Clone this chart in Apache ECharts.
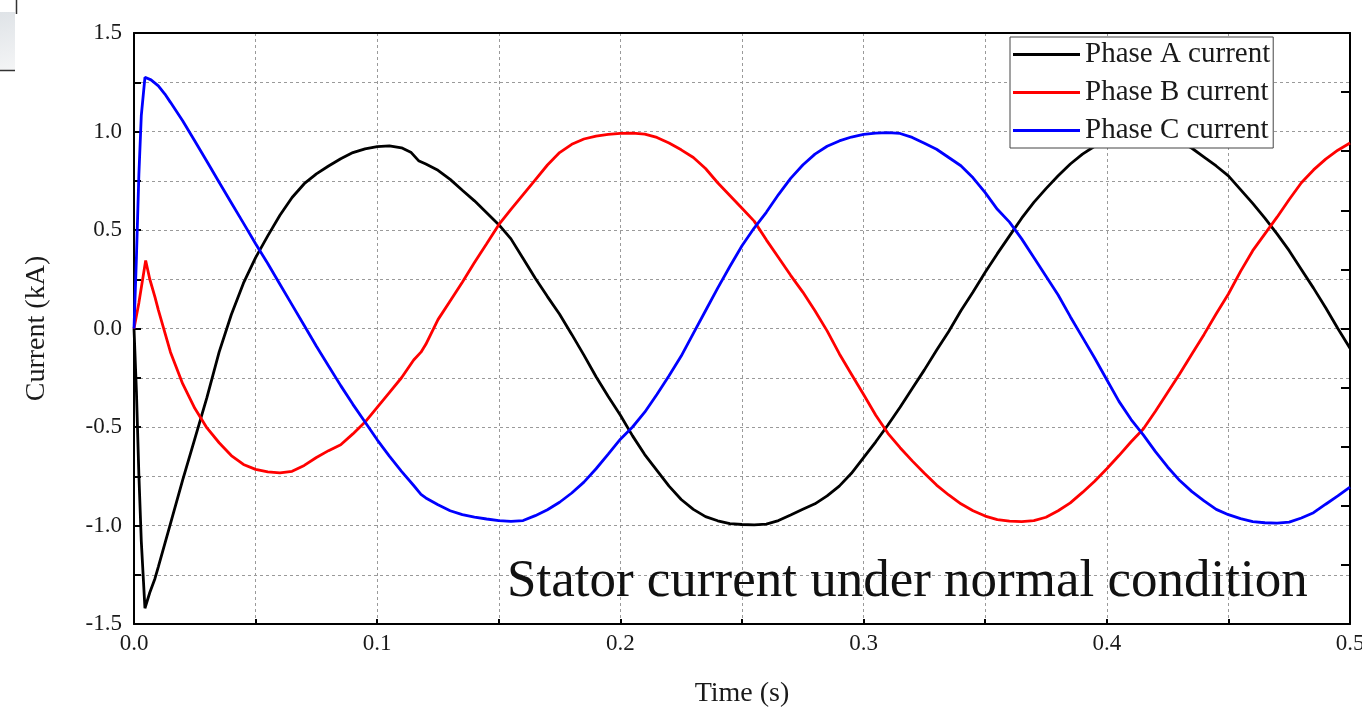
<!DOCTYPE html>
<html>
<head>
<meta charset="utf-8">
<script src="https://cdn.jsdelivr.net/npm/echarts@6/dist/echarts.min.js"></script>
<style>
html,body{margin:0;padding:0;background:#fff;}
#chart{width:1362px;height:708px;}
</style>
</head>
<body>
<div id="chart"></div>
<script>
// ---- data (time in s, current in kA) ----
const seriesNames = ['Phase A current', 'Phase B current', 'Phase C current'];
const xTickLabels = ['0.0', '0.1', '0.2', '0.3', '0.4', '0.5'];
const yTickLabels = ['-1.5', '-1.0', '-0.5', '0.0', '0.5', '1.0', '1.5'];
const annotation = 'Stator current under normal condition';

const tA = [0,0.001,0.002,0.003,0.0045,0.0065,0.0086,0.010,0.015,0.020,0.025,0.030,0.035,0.040,0.045,0.050,0.055,0.060,0.065,0.070,0.075,0.080,0.085,0.090,0.095,0.100,0.105,0.110,0.114,0.117,0.120,0.125,0.130,0.135,0.140,0.145,0.150,0.155,0.160,0.165,0.170,0.175,0.180,0.185,0.190,0.195,0.200,0.205,0.210,0.215,0.220,0.225,0.230,0.235,0.240,0.245,0.250,0.255,0.260,0.265,0.270,0.275,0.280,0.285,0.290,0.295,0.300,0.305,0.310,0.315,0.320,0.325,0.330,0.335,0.340,0.345,0.350,0.355,0.360,0.365,0.370,0.375,0.380,0.385,0.390,0.395,0.400,0.405,0.410,0.415,0.420,0.425,0.430,0.435,0.440,0.445,0.450,0.455,0.460,0.465,0.470,0.475,0.480,0.485,0.490,0.495,0.500];
const iA = [0,-0.32,-0.74,-1.08,-1.42,-1.34,-1.27,-1.21,-0.99,-0.77,-0.56,-0.35,-0.12,0.07,0.23,0.36,0.47,0.575,0.665,0.735,0.785,0.825,0.862,0.893,0.912,0.923,0.927,0.917,0.893,0.852,0.835,0.803,0.757,0.702,0.648,0.588,0.527,0.455,0.355,0.255,0.162,0.072,-0.03,-0.135,-0.245,-0.345,-0.44,-0.545,-0.64,-0.72,-0.80,-0.868,-0.918,-0.955,-0.976,-0.99,-0.995,-0.997,-0.993,-0.975,-0.947,-0.918,-0.89,-0.85,-0.80,-0.735,-0.655,-0.575,-0.49,-0.40,-0.305,-0.21,-0.11,-0.015,0.09,0.185,0.285,0.38,0.47,0.56,0.64,0.71,0.775,0.835,0.885,0.925,0.955,0.978,0.99,0.995,0.99,0.975,0.95,0.915,0.87,0.825,0.775,0.705,0.635,0.56,0.48,0.395,0.30,0.205,0.105,0.0,-0.10];

const tB = [0,0.002,0.0048,0.0065,0.0086,0.010,0.015,0.020,0.025,0.030,0.035,0.040,0.045,0.050,0.055,0.060,0.065,0.070,0.075,0.080,0.085,0.090,0.095,0.100,0.105,0.110,0.115,0.118,0.120,0.125,0.130,0.135,0.140,0.145,0.150,0.155,0.160,0.165,0.170,0.175,0.180,0.185,0.190,0.195,0.200,0.205,0.210,0.215,0.220,0.225,0.230,0.235,0.240,0.245,0.250,0.255,0.260,0.265,0.270,0.275,0.280,0.285,0.290,0.295,0.300,0.305,0.310,0.315,0.320,0.325,0.330,0.335,0.340,0.345,0.350,0.355,0.360,0.365,0.370,0.375,0.380,0.385,0.390,0.395,0.400,0.405,0.410,0.415,0.420,0.425,0.430,0.435,0.440,0.445,0.450,0.455,0.460,0.465,0.470,0.475,0.480,0.485,0.490,0.495,0.500];
const iB = [0,0.13,0.345,0.25,0.16,0.095,-0.12,-0.28,-0.405,-0.505,-0.58,-0.645,-0.69,-0.715,-0.728,-0.733,-0.725,-0.695,-0.655,-0.62,-0.59,-0.535,-0.475,-0.40,-0.325,-0.25,-0.16,-0.12,-0.08,0.045,0.14,0.235,0.335,0.43,0.527,0.605,0.68,0.755,0.83,0.893,0.935,0.962,0.977,0.985,0.99,0.992,0.987,0.97,0.942,0.907,0.868,0.812,0.74,0.675,0.61,0.545,0.45,0.36,0.27,0.185,0.09,-0.012,-0.128,-0.232,-0.335,-0.44,-0.532,-0.605,-0.672,-0.735,-0.795,-0.845,-0.89,-0.925,-0.952,-0.97,-0.978,-0.98,-0.975,-0.958,-0.925,-0.885,-0.832,-0.775,-0.712,-0.645,-0.575,-0.51,-0.42,-0.325,-0.23,-0.13,-0.03,0.075,0.175,0.29,0.395,0.48,0.565,0.655,0.74,0.805,0.86,0.905,0.942];

const tC = [0,0.001,0.002,0.003,0.0045,0.007,0.010,0.0127,0.015,0.020,0.025,0.030,0.035,0.040,0.045,0.050,0.055,0.060,0.065,0.070,0.075,0.080,0.085,0.090,0.095,0.100,0.105,0.110,0.115,0.118,0.120,0.125,0.130,0.135,0.140,0.145,0.150,0.155,0.160,0.165,0.170,0.175,0.180,0.185,0.190,0.195,0.200,0.205,0.210,0.215,0.220,0.225,0.230,0.235,0.240,0.245,0.250,0.255,0.260,0.265,0.270,0.275,0.280,0.285,0.290,0.295,0.300,0.305,0.310,0.315,0.320,0.325,0.330,0.335,0.340,0.345,0.350,0.355,0.360,0.365,0.370,0.375,0.380,0.385,0.390,0.395,0.400,0.405,0.410,0.415,0.420,0.425,0.430,0.435,0.440,0.445,0.450,0.455,0.460,0.465,0.470,0.475,0.480,0.485,0.490,0.495,0.500];
const iC = [0,0.36,0.78,1.08,1.275,1.262,1.232,1.19,1.148,1.055,0.952,0.848,0.742,0.638,0.535,0.43,0.33,0.225,0.12,0.015,-0.09,-0.19,-0.29,-0.385,-0.475,-0.565,-0.648,-0.725,-0.797,-0.842,-0.86,-0.895,-0.925,-0.945,-0.958,-0.967,-0.975,-0.979,-0.975,-0.95,-0.92,-0.882,-0.835,-0.78,-0.712,-0.638,-0.562,-0.50,-0.425,-0.335,-0.24,-0.14,-0.025,0.09,0.205,0.315,0.42,0.51,0.59,0.68,0.762,0.83,0.885,0.925,0.952,0.972,0.985,0.992,0.994,0.99,0.97,0.94,0.91,0.868,0.826,0.765,0.69,0.605,0.54,0.455,0.36,0.265,0.17,0.06,-0.045,-0.15,-0.26,-0.37,-0.462,-0.54,-0.625,-0.703,-0.772,-0.828,-0.875,-0.918,-0.945,-0.965,-0.98,-0.986,-0.988,-0.983,-0.962,-0.935,-0.892,-0.85,-0.805];

// ---- chart ----
const FONT = '"Liberation Serif", "Times New Roman", serif';
const pairs = (t, v) => t.map((x, i) => [x, v[i]]);
const colors = ['#000000', '#ff0000', '#0000ff'];
const dashed = { show: true, lineStyle: { color: '#9a9a9a', type: [3, 3], width: 1 } };

const chart = echarts.init(document.getElementById('chart'), null, { renderer: 'canvas' });
chart.setOption({
  animation: false,
  backgroundColor: '#ffffff',
  grid: { left: 134, right: 12, top: 33, bottom: 84, containLabel: false, outerBoundsMode: 'none' },
  legend: {
    data: seriesNames.map(n => ({ name: n, icon: 'rect' })),
    orient: 'vertical',
    left: 1010, top: 37,
    itemWidth: 67, itemHeight: 3, itemGap: 9,
    padding: [3, 3, 3, 3],
    backgroundColor: '#ffffff',
    borderColor: '#444', borderWidth: 1,
    textStyle: { fontFamily: FONT, fontSize: 29, color: '#1a1a1a', lineHeight: 28 },
    selectedMode: false
  },
  xAxis: [{
    type: 'value', min: 0, max: 0.5, interval: 0.1,
    name: 'Time (s)', nameLocation: 'middle', nameGap: 56,
    nameTextStyle: { fontFamily: FONT, fontSize: 28, color: '#1a1a1a' },
    axisLine: { show: true, onZero: false, lineStyle: { color: '#000', width: 2 } },
    axisTick: { show: true, inside: true, length: 5, lineStyle: { color: '#000', width: 2 } },
    minorTick: { show: true, splitNumber: 2, length: 5, lineStyle: { color: '#000', width: 2 } },
    splitLine: dashed,
    minorSplitLine: dashed,
    axisLabel: { fontFamily: FONT, fontSize: 23, color: '#1a1a1a', margin: 8,
      formatter: v => xTickLabels[Math.round(v * 10)] }
  }, {
    type: 'value', min: 0, max: 0.5, position: 'top',
    axisLine: { show: true, onZero: false, lineStyle: { color: '#000', width: 2 } },
    axisTick: { show: false }, axisLabel: { show: false }, splitLine: { show: false }
  }],
  yAxis: [{
    type: 'value', min: -1.5, max: 1.5, interval: 0.5,
    name: 'Current (kA)', nameLocation: 'middle', nameGap: 83, nameRotate: 90,
    nameTextStyle: { fontFamily: FONT, fontSize: 28, color: '#1a1a1a' },
    axisLine: { show: true, onZero: false, lineStyle: { color: '#000', width: 2 } },
    axisTick: { show: true, inside: true, length: 7, lineStyle: { color: '#000', width: 2 } },
    minorTick: { show: true, splitNumber: 2, length: 7, lineStyle: { color: '#000', width: 2 } },
    splitLine: dashed,
    minorSplitLine: dashed,
    axisLabel: { fontFamily: FONT, fontSize: 23, color: '#1a1a1a', margin: 12,
      formatter: v => yTickLabels[Math.round((v + 1.5) * 2)] }
  }, {
    type: 'value', min: -1.5, max: 1.5, interval: 0.3, position: 'right',
    axisLine: { show: true, onZero: false, lineStyle: { color: '#000', width: 2 } },
    axisTick: { show: true, inside: true, length: 9, lineStyle: { color: '#000', width: 2 } },
    axisLabel: { show: false }, splitLine: { show: false }
  }],
  series: [
    { name: seriesNames[0], type: 'line', data: pairs(tA, iA), symbol: 'none', color: colors[0],
      lineStyle: { color: colors[0], width: 2.8 }, z: 3 },
    { name: seriesNames[1], type: 'line', data: pairs(tB, iB), symbol: 'none', color: colors[1],
      lineStyle: { color: colors[1], width: 2.8 }, z: 3 },
    { name: seriesNames[2], type: 'line', data: pairs(tC, iC), symbol: 'none', color: colors[2],
      lineStyle: { color: colors[2], width: 2.8 }, z: 3 }
  ],
  graphic: [
    { type: 'text', left: 507, top: 556, z: 10,
      style: { text: annotation, font: '53px ' + FONT, fill: '#111' } },
    { type: 'rect', shape: { x: 0, y: 12, width: 15, height: 58 }, z: 1,
      style: { fill: new echarts.graphic.LinearGradient(0, 0, 1, 1, [
        { offset: 0, color: '#dfe3e7' }, { offset: 1, color: '#f4f5f6' }]) } },
    { type: 'line', shape: { x1: 0, y1: 70.5, x2: 15, y2: 70.5 }, z: 1,
      style: { stroke: '#333', lineWidth: 1.5 } },
    { type: 'line', shape: { x1: 16.5, y1: 0, x2: 16.5, y2: 14 }, z: 1,
      style: { stroke: '#333', lineWidth: 1.5 } }
  ]
});
</script>
</body>
</html>
